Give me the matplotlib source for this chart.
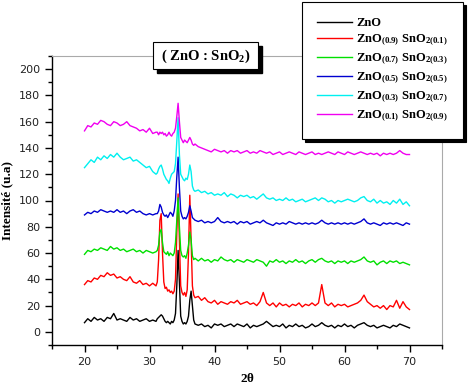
"""XRD patterns of ZnO:SnO2 films."""

import numpy as np
import matplotlib.pyplot as plt
from matplotlib.patches import Rectangle
from matplotlib.ticker import MultipleLocator

plt.rcParams['mathtext.fontset'] = 'custom'
plt.rcParams['mathtext.rm'] = 'Liberation Serif:bold'
plt.rcParams['mathtext.bf'] = 'Liberation Serif:bold'
plt.rcParams['mathtext.default'] = 'rm'

# 2theta grid: coarse on the flanks, finer around the peaks
two_theta = np.concatenate([np.linspace(20, 31, 23),
                            np.linspace(31.2, 37.0, 30),
                            np.linspace(37.5, 70, 66)])

zno = [7, 10, 8, 11, 9, 10, 8, 11, 10, 14, 9, 10, 9, 8, 11, 9, 10, 8, 9, 10, 8, 9, 8,
       10, 11, 12, 13, 12, 10, 8, 7, 8, 7, 6, 8, 7, 9, 14, 35, 62, 38, 12, 8, 6, 7, 6, 8, 12, 24, 31, 20, 9, 6,
       5, 6, 4, 5, 3, 6, 5, 6, 4, 5, 6, 4, 6, 5, 4, 6, 3, 5, 4, 5, 6, 8, 6, 4, 5, 4, 6, 3, 5, 4, 6, 4, 5, 3,
       4, 6, 4, 5, 7, 5, 4, 5, 3, 5, 4, 6, 4, 5, 3, 5, 6, 7, 5, 4, 5, 3, 4, 5, 4, 3, 5, 4, 6, 5, 4, 3]

zno9 = [36, 39, 38, 41, 40, 43, 42, 45, 43, 44, 41, 42, 40, 39, 42, 38, 37, 39, 36, 37, 35, 37, 35,
        38, 55, 85, 90, 60, 38, 33, 34, 31, 32, 30, 31, 29, 31, 40, 75, 105, 70, 35, 30, 28, 30, 27, 32, 60, 104, 70, 35, 28, 26,
        27, 24, 26, 23, 22, 24, 21, 23, 22, 21, 23, 22, 24, 21, 22, 23, 21, 22, 20, 23, 30, 22, 20, 22, 19, 22, 20, 21, 19,
        21, 20, 22, 19, 21, 20, 22, 20, 22, 36, 22, 20, 22, 19, 21, 20, 21, 19, 20, 21, 22, 24, 28, 23, 21, 19, 20, 18,
        20, 17, 20, 19, 24, 18, 23, 19, 17]

zno7 = [59, 62, 61, 63, 62, 64, 63, 62, 65, 63, 64, 62, 63, 61, 62, 63, 61, 62, 60, 62, 61, 60, 61,
        62, 66, 76, 78, 68, 61, 60, 59, 61, 58, 60, 59, 58, 60, 68, 85, 102, 80, 62, 58, 57, 58, 56, 60, 66, 76, 70, 58, 55, 56,
        54, 56, 54, 55, 53, 55, 54, 57, 55, 54, 55, 53, 55, 54, 53, 55, 54, 53, 55, 54, 53, 50, 54, 53, 55, 53, 54, 52, 54,
        53, 55, 53, 54, 52, 54, 55, 53, 55, 56, 54, 53, 54, 52, 54, 53, 54, 52, 54, 53, 54, 55, 57, 54, 53, 54, 51, 53,
        54, 52, 54, 53, 54, 52, 53, 52, 51]

zno5 = [89, 91, 90, 92, 91, 93, 92, 91, 92, 91, 93, 91, 92, 90, 92, 93, 91, 92, 90, 89, 90, 89, 90,
        90, 92, 97, 95, 91, 89, 88, 89, 87, 89, 91, 90, 88, 92, 100, 118, 133, 110, 92, 88, 86, 87, 86, 88, 91, 96, 92, 87, 86, 85,
        84, 85, 83, 84, 83, 84, 87, 84, 83, 84, 83, 84, 82, 84, 83, 84, 82, 83, 84, 83, 85, 83, 82, 81, 83, 82, 83, 82, 84,
        83, 82, 83, 82, 83, 82, 83, 82, 83, 85, 83, 82, 83, 82, 83, 82, 83, 82, 83, 82, 83, 84, 86, 83, 82, 83, 82, 81,
        83, 82, 83, 82, 83, 82, 81, 83, 82]

zno3 = [125, 128, 131, 129, 133, 131, 134, 132, 135, 133, 136, 133, 131, 132, 133, 130, 131, 129, 127, 125, 126, 122, 120,
        121, 124, 126, 127, 124, 120, 118, 116, 115, 113, 117, 120, 121, 122, 128, 145, 163, 135, 120, 118, 116, 115, 117, 116,
        120, 127, 122, 111, 108, 107,
        108, 106, 107, 105, 106, 104, 105, 104, 106, 103, 105, 104, 102, 104, 103, 104, 102, 103, 101, 103, 105, 102, 101,
        102, 100, 101, 100, 102, 100, 101, 99, 100, 101, 99, 100, 101, 102, 100, 102, 101, 99, 100, 98, 100, 99, 100, 101,
        100, 99, 100, 102, 103, 100, 99, 101, 98, 100, 98, 99, 97, 100, 98, 101, 97, 99, 96]

zno1 = [153, 157, 156, 159, 158, 161, 160, 158, 157, 160, 159, 157, 158, 160, 157, 156, 155, 153, 154, 152, 155, 151, 152,
        152, 150, 152, 151, 152, 150, 151, 149, 150, 152, 150, 149, 151, 152, 155, 164, 174, 160, 148, 146, 144, 146, 145, 144,
        146, 148, 146, 143, 142, 143,
        141, 140, 139, 138, 137, 139, 138, 137, 138, 136, 138, 137, 138, 136, 137, 138, 136, 137, 136, 138, 137, 136, 137,
        135, 136, 137, 135, 136, 137, 136, 135, 137, 136, 135, 136, 137, 135, 136, 135, 136, 137, 136, 135, 137, 136, 135,
        137, 136, 135, 136, 137, 136, 135, 136, 135, 136, 134, 136, 135, 136, 135, 136, 138, 136, 135, 135]

labels = ['ZnO',
          r'ZnO$_{(0.9)}$ SnO$_{2(0.1)}$',
          r'ZnO$_{(0.7)}$ SnO$_{2(0.3)}$',
          r'ZnO$_{(0.5)}$ SnO$_{2(0.5)}$',
          r'ZnO$_{(0.3)}$ SnO$_{2(0.7)}$',
          r'ZnO$_{(0.1)}$ SnO$_{2(0.9)}$']
series = [zno, zno9, zno7, zno5, zno3, zno1]
colors = ['black', 'red', '#00e000', '#0000d0', '#00f0f0', '#f000f0']

for s in series:
    assert len(s) == two_theta.size, len(s)

W, H = 474, 389
fig = plt.figure(figsize=(W/100, H/100), dpi=100)
ax = fig.add_axes([52/W, 44/H, 390/W, 289/H])

for s, c, lab in zip(series, colors, labels):
    ax.plot(two_theta, s, color=c, lw=1.0, label=lab)

ax.set_xlim(15, 75)
ax.set_ylim(-10, 210)
ax.xaxis.set_major_locator(MultipleLocator(10))
ax.xaxis.set_minor_locator(MultipleLocator(5))
ax.yaxis.set_major_locator(MultipleLocator(20))
ax.yaxis.set_minor_locator(MultipleLocator(10))
ax.tick_params(which='both', direction='out', top=False, right=False,
               labelsize=8, labelcolor='#222222', width=1)
ax.tick_params(which='major', length=5)
ax.tick_params(which='minor', length=3)
for side in ['top', 'right']:
    ax.spines[side].set_color('#aaaaaa')
    ax.spines[side].set_linewidth(0.8)
for side in ['left', 'bottom']:
    ax.spines[side].set_linewidth(1.0)

ax.set_xlabel(r'2$\theta$', fontfamily='Liberation Serif', fontweight='bold', fontsize=9.5)
ax.set_ylabel('Intensité (u.a)', fontfamily='Liberation Serif', fontweight='bold', fontsize=9.5)

# legend box with a dark shadow, partly outside the axes
leg = fig.legend(loc='upper right', bbox_to_anchor=(463/W, 1 - 2/H), borderaxespad=0,
                 prop={'family': 'Liberation Serif', 'weight': 'bold', 'size': 9},
                 handlelength=2.8, labelspacing=0.3, borderpad=1.2, handletextpad=0.35,
                 fancybox=False, edgecolor='black', framealpha=1,
                 shadow={'color': 'black', 'alpha': 1})
leg.get_frame().set_linewidth(0.8)

# title box with a dark shadow
fig.patches.append(Rectangle((157/W, 1 - 73/H), 105/W, 27/H, transform=fig.transFigure,
                             fc='black', ec='black', zorder=5))
fig.patches.append(Rectangle((153/W, 1 - 69/H), 105/W, 27/H, transform=fig.transFigure,
                             fc='white', ec='black', lw=0.8, zorder=6))
fig.text(206/W, 1 - 56/H, '( ZnO : SnO$_2$)', ha='center', va='center',
         fontfamily='Liberation Serif', fontweight='bold', fontsize=10.5, zorder=7)

plt.savefig('out.png', dpi=100)
